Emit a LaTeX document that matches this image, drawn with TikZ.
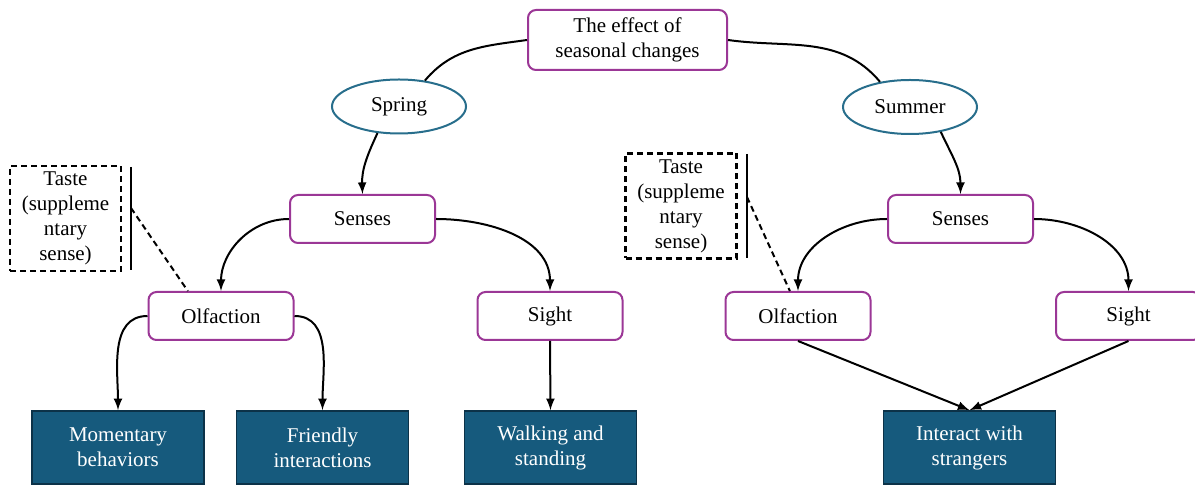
\documentclass[tikz,border=0pt]{standalone}
\usepackage{fontspec}
\setmainfont{Liberation Serif}
\usetikzlibrary{shapes}
\usetikzlibrary{arrows}
\usetikzlibrary{positioning}

\definecolor{boxpurple}{RGB}{155,55,150}
\definecolor{ovalteal}{RGB}{40,110,140}
\definecolor{outfill}{RGB}{22,90,125}
\definecolor{outline}{RGB}{12,50,72}

\tikzset{
  topic/.style={draw=boxpurple, line width=1pt, rounded corners=4pt, fill=white,
    align=center, inner sep=0pt, minimum width=99.5pt, minimum height=30pt},
  season/.style={ellipse, draw=ovalteal, line width=1pt, inner sep=0pt,
    minimum width=67pt, minimum height=27pt},
  sense/.style={draw=boxpurple, line width=1pt, rounded corners=4pt, inner sep=0pt,
    minimum width=72.5pt, minimum height=24pt},
  outcome/.style={draw=outline, line width=0.8pt, fill=outfill, text=white, align=center,
    inner sep=0pt, minimum width=86pt, minimum height=36.5pt},
  tastebox/.style={draw, dash pattern=on 3pt off 2pt, line width=1.2pt, align=center,
    inner sep=0pt, minimum width=55.5pt, minimum height=52.5pt},
  link/.style={line width=1pt}
}

\begin{document}
\begin{tikzpicture}[x=0.5pt, y=-0.5pt, >=latex, font=\fontsize{10.5}{12.5}\selectfont]
  \useasboundingbox (0,0) rectangle (1195,485);

  % top and seasons
  \node[topic] (effect) at (627.5,40) {The effect of\\seasonal changes};
  \node[season] (spring) at (399,106.5) {Spring};
  \node[season] (summer) at (910,107) {Summer};

  % senses
  \node[sense] (lsenses) at (362.5,219) {Senses};
  \node[sense] (rsenses) at (960.5,219) {Senses};
  \node[sense] (lolf) at (221,316) {Olfaction};
  \node[sense] (lsight) at (550,316) {Sight};
  \node[sense] (rolf) at (798,316) {Olfaction};
  \node[sense] (rsight) at (1128.5,316) {Sight};

  % outcomes
  \node[outcome] (moment) at (118,447.5) {Momentary\\behaviors};
  \node[outcome] (friend) at (322.5,447.5) {Friendly\\interactions};
  \node[outcome] (walk) at (550.5,447.5) {Walking and\\standing};
  \node[outcome] (strange) at (969.5,447.5) {Interact with\\strangers};

  % taste notes
  \node[tastebox] (ltaste) at (65.5,218.5) {Taste\\(suppleme\\ntary\\sense)};
  \node[tastebox] (rtaste) at (681,206) {Taste\\(suppleme\\ntary\\sense)};
  \coordinate (lbartop) at (131,167);
  \coordinate (lbarbot) at (131,270);
  \coordinate (lbarmid) at (131,208);
  \coordinate (rbartop) at (747,154);
  \coordinate (rbarbot) at (747,258);
  \coordinate (rbarmid) at (747,197);
  \draw[line width=1pt] (lbartop) -- (lbarbot);
  \draw[line width=1pt] (rbartop) -- (rbarbot);
  \draw[link, dash pattern=on 3pt off 2pt] (lbarmid) -- (lolf.143);
  \draw[link, dash pattern=on 3pt off 2pt] (rbarmid) -- (rolf.108);

  % connectors
  \draw[link] (effect.west) to[out=188, in=50] (spring.45);
  \draw[link] (effect.east) to[out=-8, in=130] (summer.140);
  \draw[link,->] (spring.231) to[out=-115, in=92] (lsenses.north);
  \draw[link,->] (summer.-39) to[out=-65, in=90] (rsenses.north);
  \draw[link,->] (lsenses.west) to[out=180, in=90] (lolf.north);
  \draw[link,->] (lsenses.east) to[out=0, in=90] (lsight.north);
  \draw[link,->] (rsenses.west) to[out=180, in=90] (rolf.north);
  \draw[link,->] (rsenses.east) to[out=0, in=90] (rsight.north);
  \draw[link,->] (lolf.west) to[out=180, in=90] (moment.north);
  \draw[link,->] (lolf.east) to[out=0, in=90] (friend.north);
  \draw[link,->] (lsight.south) -- (walk.north);
  \draw[link,->] (rolf.south) -- (strange.north);
  \draw[link,->] (rsight.south) -- (strange.north);
\end{tikzpicture}
\end{document}
